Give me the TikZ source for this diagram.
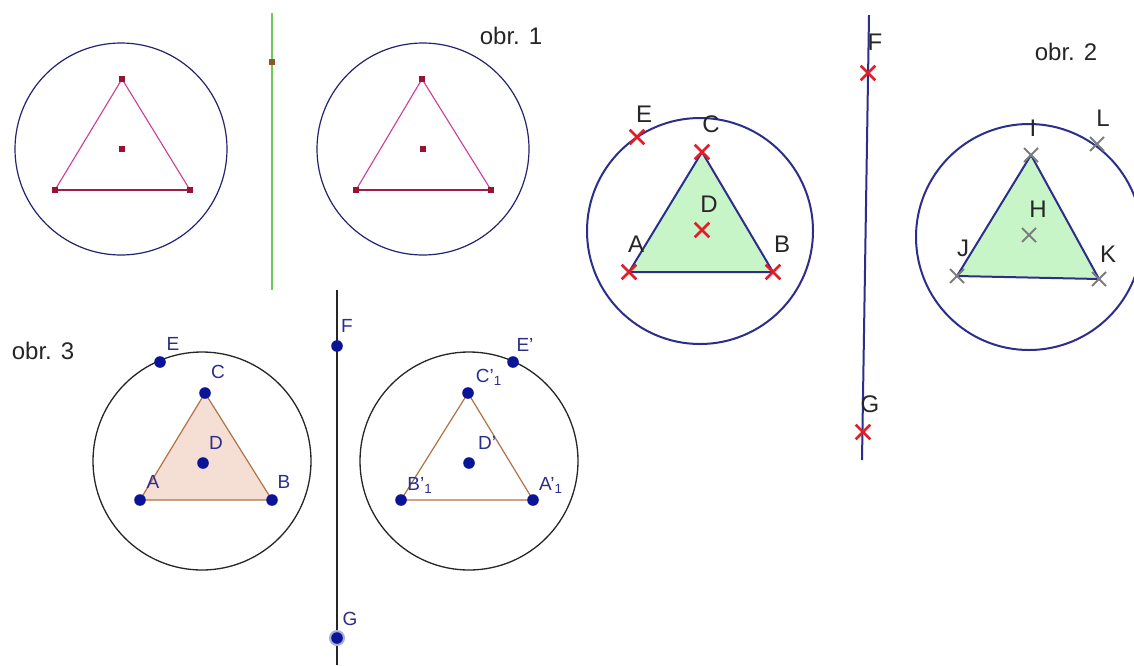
\documentclass[tikz,border=0pt]{standalone}
\usepackage{fontspec}
\setmainfont{Liberation Sans}
\usetikzlibrary{shapes.misc}
\definecolor{kruh}{RGB}{35,35,110}
\definecolor{ruzova}{RGB}{205,60,150}
\definecolor{tmavocervena}{RGB}{150,20,50}
\definecolor{zelena}{RGB}{110,200,90}
\definecolor{modra}{RGB}{45,45,140}
\definecolor{vypln}{RGB}{200,245,200}
\definecolor{krizek}{RGB}{225,30,40}
\definecolor{seda}{RGB}{125,125,125}
\definecolor{hneda}{RGB}{175,115,70}
\definecolor{bezova}{RGB}{245,222,212}
\definecolor{bod}{RGB}{10,20,150}

\begin{document}
\begin{tikzpicture}[x=0.5pt,y=-0.5pt,
  every node/.style={font=\fontsize{12}{14}\selectfont,text=black!85},
  bod1/.style={fill=tmavocervena,inner sep=0pt,minimum size=2.6pt},
  xred/.style={cross out,draw=krizek,line width=1.3pt,minimum size=6pt,inner sep=0pt},
  xgray/.style={cross out,draw=seda,line width=1pt,minimum size=6pt,inner sep=0pt},
  bod3/.style={circle,fill=bod,inner sep=0pt,minimum size=5.8pt},
  lab3/.style={text=modra,font=\fontsize{9.5}{11}\selectfont}]
  \path[use as bounding box,fill=white] (0,0) rectangle (1134,665);
  % obr. 1
  \begin{scope}
    \coordinate (T1) at (122,79);
    \coordinate (L1) at (55,190);
    \coordinate (R1) at (190,190);
    \coordinate (S1) at (122,149);
    \draw[kruh,line width=0.6pt] (121,149) circle (106);
    \draw[ruzova,line width=0.55pt] (L1)--(T1)--(R1);
    \draw[tmavocervena!80!ruzova,line width=0.8pt] (L1)--(R1);
    \foreach \p in {T1,L1,R1,S1} \node[bod1] at (\p) {};
  \end{scope}
  \draw[zelena,line width=1pt] (272,13)--(272,290);
  \node[fill=brown!70!black,inner sep=0pt,minimum size=2.8pt] (P0) at (272,62) {};
  \begin{scope}
    \coordinate (T1') at (422,79);
    \coordinate (L1') at (356,190);
    \coordinate (R1') at (491,190);
    \coordinate (S1') at (423,149);
    \draw[kruh,line width=0.6pt] (423,149) circle (106);
    \draw[ruzova,line width=0.55pt] (L1')--(T1')--(R1');
    \draw[tmavocervena!80!ruzova,line width=0.8pt] (L1')--(R1');
    \foreach \p in {T1',L1',R1',S1'} \node[bod1] at (\p) {};
  \end{scope}
  \node (obr1) at (511,36) {obr. 1};
  % obr. 2
  \coordinate (Ftop) at (869,15);
  \coordinate (Gbot) at (862,460);
  \draw[modra,line width=1pt] (Ftop)--(Gbot);
  \coordinate (A) at (629,272);
  \coordinate (B) at (773,272);
  \coordinate (C) at (702,152);
  \coordinate (D) at (702,230);
  \coordinate (E) at (637,137);
  \coordinate (F) at (868,73);
  \coordinate (G) at (863,432);
  \draw[modra,line width=1pt] (700,231) circle (113);
  \filldraw[fill=vypln,draw=modra,line width=1pt] (A)--(B)--(C)--cycle;
  \foreach \p in {A,B,C,D,E,F,G} \node[xred] at (\p) {};
  \node at (644,114) {E};
  \node at (711,124) {C};
  \node at (709,204) {D};
  \node at (636,244) {A};
  \node at (782,244) {B};
  \node at (875,42) {F};
  \node at (870,404) {G};
  \coordinate (H) at (1029,235);
  \coordinate (I) at (1031,155);
  \coordinate (J) at (957,276);
  \coordinate (K) at (1099,279);
  \coordinate (L) at (1097,144);
  \draw[modra,line width=1pt] (1029,237) circle (113);
  \filldraw[fill=vypln,draw=modra,line width=1pt] (J)--(K)--(I)--cycle;
  \foreach \p in {H,I,J,K,L} \node[xgray] at (\p) {};
  \node at (1033,128) {I};
  \node at (1103,118) {L};
  \node at (1038,209) {H};
  \node at (963,248) {J};
  \node at (1108,254) {K};
  \node (obr2) at (1066,52) {obr. 2};
  % obr. 3
  \node (obr3) at (43,351) {obr. 3};
  \coordinate (A3) at (140,500);
  \coordinate (B3) at (272,500);
  \coordinate (C3) at (205,393);
  \coordinate (D3) at (203,463);
  \coordinate (E3) at (160,362);
  \draw[black!85,line width=0.65pt] (202,461) circle (109);
  \filldraw[fill=bezova,draw=hneda,line width=0.6pt] (A3)--(B3)--(C3)--cycle;
  \coordinate (F3) at (337,346);
  \coordinate (G3) at (337,638);
  \draw[black!85,line width=0.65pt] (337,290)--(337,665);
  \coordinate (A3') at (533,500);
  \coordinate (B3') at (401,500);
  \coordinate (C3') at (468,393);
  \coordinate (D3') at (469,463);
  \coordinate (E3') at (513,362);
  \draw[black!85,line width=0.65pt] (469,461) circle (109);
  \draw[hneda,line width=0.6pt] (A3')--(B3')--(C3')--cycle;
  \fill[bod!35] (G3) circle (8);
  \foreach \p in {A3,B3,C3,D3,E3,F3,G3,A3',B3',C3',D3',E3'} \node[bod3] at (\p) {};
  \node[lab3] at (173,344) {E};
  \node[lab3] at (218,372) {C};
  \node[lab3] at (216,443) {D};
  \node[lab3] at (153,482) {A};
  \node[lab3] at (284,482) {B};
  \node[lab3] at (347,326) {F};
  \node[lab3] at (350,619) {G};
  \node[lab3] at (525,345) {E'};
  \node[lab3] at (489,377) {C'\textsubscript{1}};
  \node[lab3] at (487,443) {D'};
  \node[lab3] at (420,485) {B'\textsubscript{1}};
  \node[lab3] at (551,485) {A'\textsubscript{1}};
\end{tikzpicture}
\end{document}
